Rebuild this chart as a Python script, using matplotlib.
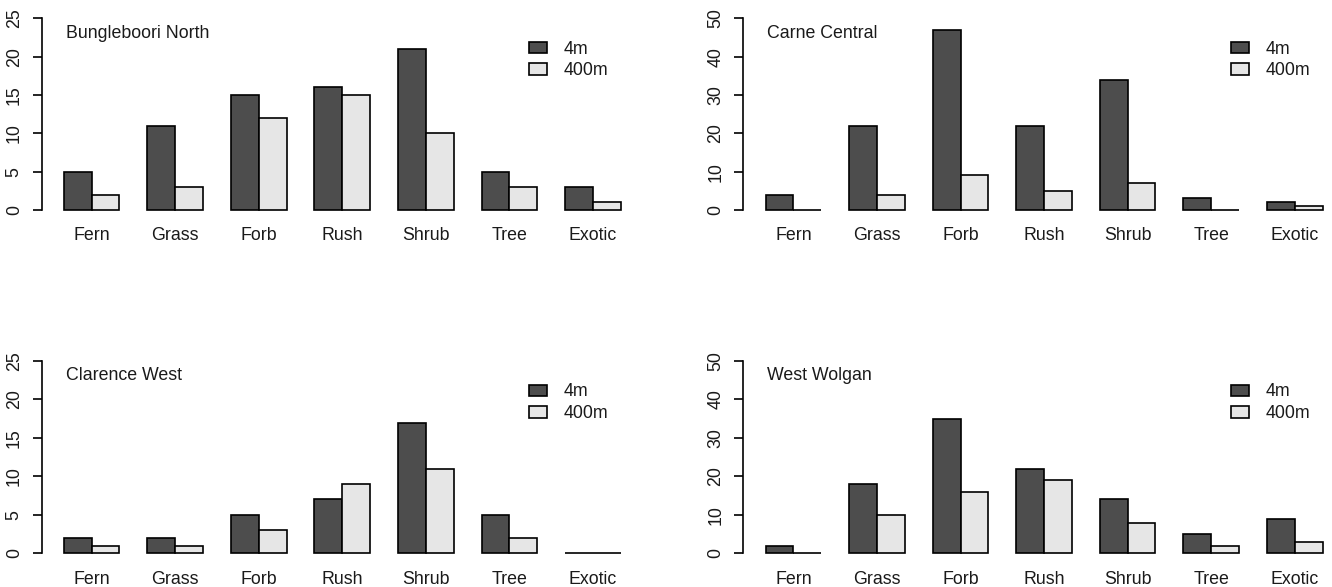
import matplotlib.pyplot as plt
from matplotlib.patches import Patch

plt.rcParams['font.family'] = ['Liberation Sans', 'DejaVu Sans']

categories = ["Fern", "Grass", "Forb", "Rush", "Shrub", "Tree", "Exotic"]
series_names = ["4m", "400m"]

bungleboori_4m = [5, 11, 15, 16, 21, 5, 3]
bungleboori_400m = [2, 3, 12, 15, 10, 3, 1]
carne_4m = [4, 22, 47, 22, 34, 3, 2]
carne_400m = [0, 4, 9, 5, 7, 0, 1]
clarence_4m = [2, 2, 5, 7, 17, 5, 0]
clarence_400m = [1, 1, 3, 9, 11, 2, 0]
wolgan_4m = [2, 18, 35, 22, 14, 5, 9]
wolgan_400m = [0, 10, 16, 19, 8, 2, 3]

W, H = 1332, 587
DARK = "#4d4d4d"
LIGHT = "#e6e6e6"
TXT = "#1a1a1a"
FS = 12.75
UNIT = 27.85  # px per bar width

fig = plt.figure(figsize=(W / 100, H / 100), dpi=100)


def panel(axis_x, zero_y, top_y, ymax, step, title, v4, v400):
    ppu = (zero_y - top_y) / ymax
    pad = 0.04 * ymax
    bottom_px = zero_y + pad * ppu
    top_px = top_y - pad * ppu
    ax = fig.add_axes([axis_x / W, 1 - bottom_px / H,
                       21.6 * UNIT / W, (bottom_px - top_px) / H])
    ax.set_xlim(0.2, 21.8)
    ax.set_ylim(-pad, ymax + pad)
    left4 = [1 + 3 * i for i in range(len(categories))]
    left400 = [2 + 3 * i for i in range(len(categories))]
    ax.bar(left4, v4, width=1, align='edge', color=DARK,
           edgecolor='black', linewidth=1.2)
    ax.bar(left400, v400, width=1, align='edge', color=LIGHT,
           edgecolor='black', linewidth=1.2)
    for s in ['top', 'right', 'bottom']:
        ax.spines[s].set_visible(False)
    ax.spines['left'].set_bounds(0, ymax)
    ax.spines['left'].set_linewidth(1.2)
    ax.set_yticks(range(0, ymax + 1, step))
    ax.tick_params(axis='y', length=6.5, width=1.2, pad=7, labelsize=FS,
                   labelcolor=TXT, labelrotation=90)
    for lab in ax.get_yticklabels():
        lab.set_va('center')
    ax.set_xticks([l + 1 for l in left4])
    ax.set_xticklabels(categories)
    ax.tick_params(axis='x', length=0, pad=7, labelsize=FS, labelcolor=TXT)
    fig.text((axis_x + 24) / W, 1 - (top_y + 15) / H, title, fontsize=FS,
             color=TXT, ha='left', va='center')
    handles = [Patch(facecolor=DARK, edgecolor='black', linewidth=1.2),
               Patch(facecolor=LIGHT, edgecolor='black', linewidth=1.2)]
    fig.legend(handles, series_names, loc='upper left',
               bbox_to_anchor=((axis_x + 487.5) / W, 1 - (top_y + 22.5) / H),
               frameon=False, fontsize=FS, borderpad=0, borderaxespad=0,
               handlelength=1.0, handleheight=0.62, handletextpad=0.95,
               labelspacing=0.26, labelcolor=TXT)
    return ax


panel(41.5, 210, 18.3, 25, 5, "Bungleboori North", bungleboori_4m, bungleboori_400m)
panel(743.3, 210, 18.3, 50, 10, "Carne Central", carne_4m, carne_400m)
panel(41.5, 553.3, 361, 25, 5, "Clarence West", clarence_4m, clarence_400m)
panel(743.3, 553.3, 361, 50, 10, "West Wolgan", wolgan_4m, wolgan_400m)

fig.savefig("out.png", dpi=100)
